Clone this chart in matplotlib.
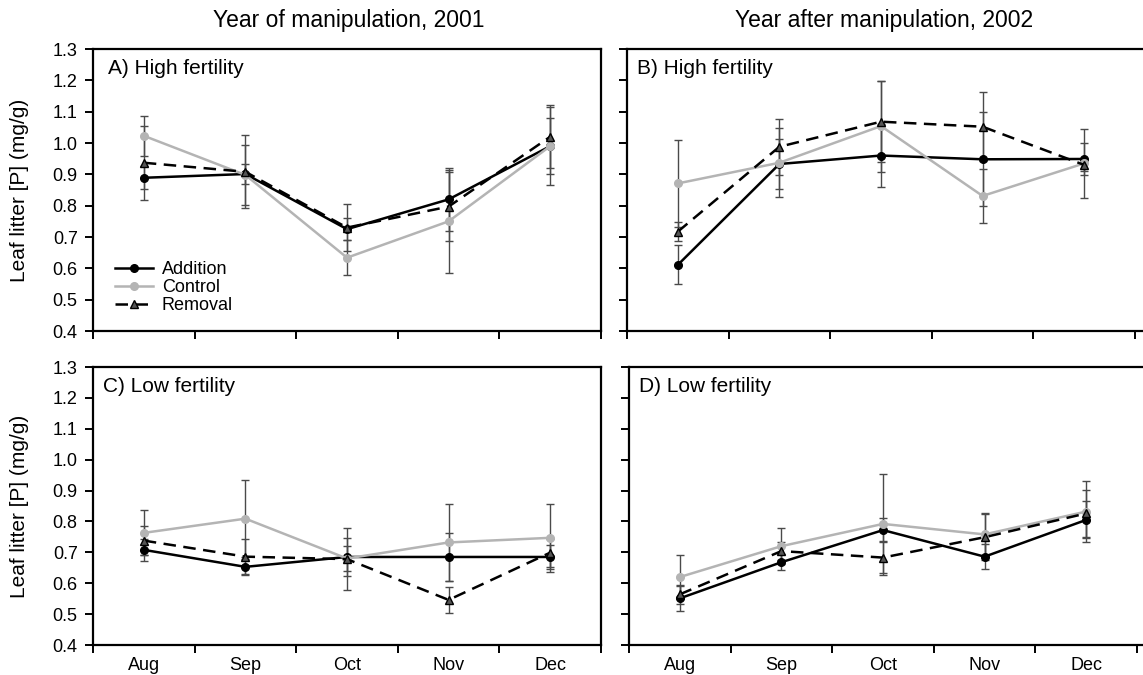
import numpy as np
import matplotlib
matplotlib.use("Agg")
import matplotlib.pyplot as plt

plt.rcParams['font.family'] = ['Liberation Sans', 'DejaVu Sans']

months = ['Aug', 'Sep', 'Oct', 'Nov', 'Dec']
treatments = ['Addition', 'Control', 'Removal']

# panel A: high fertility, 2001
a_mean = {'Addition': [0.889, 0.901, 0.725, 0.820, 0.990],
          'Control':  [1.023, 0.898, 0.634, 0.750, 0.990],
          'Removal':  [0.937, 0.908, 0.730, 0.797, 1.020]}
a_err = {'Addition': [0.037, 0.032, 0.035, 0.100, 0.090],
         'Control':  [0.064, 0.097, 0.056, 0.165, 0.125],
         'Removal':  [0.118, 0.116, 0.074, 0.110, 0.100]}

# panel B: high fertility, 2002
b_mean = {'Addition': [0.611, 0.933, 0.960, 0.948, 0.949],
          'Control':  [0.871, 0.937, 1.054, 0.831, 0.935],
          'Removal':  [0.717, 0.988, 1.068, 1.052, 0.930]}
b_err = {'Addition': [0.062, 0.080, 0.100, 0.150, 0.050],
         'Control':  [0.140, 0.110, 0.145, 0.085, 0.110],
         'Removal':  [0.030, 0.090, 0.130, 0.110, 0.020]}

# panel C: low fertility, 2001
c_mean = {'Addition': [0.708, 0.653, 0.685, 0.685, 0.685],
          'Control':  [0.763, 0.809, 0.680, 0.732, 0.747],
          'Removal':  [0.738, 0.686, 0.678, 0.546, 0.699]}
c_err = {'Addition': [0.035, 0.025, 0.060, 0.077, 0.040],
         'Control':  [0.073, 0.124, 0.040, 0.124, 0.110],
         'Removal':  [0.048, 0.057, 0.100, 0.041, 0.045]}

# panel D: low fertility, 2002
d_mean = {'Addition': [0.551, 0.668, 0.772, 0.686, 0.805],
          'Control':  [0.620, 0.720, 0.792, 0.758, 0.832],
          'Removal':  [0.564, 0.704, 0.683, 0.749, 0.826]}
d_err = {'Addition': [0.040, 0.025, 0.040, 0.040, 0.060],
         'Control':  [0.070, 0.058, 0.160, 0.070, 0.100],
         'Removal':  [0.030, 0.030, 0.055, 0.075, 0.075]}

styles = {
    'Addition': dict(color='black', ls='-', marker='o', mfc='black', mec='black', ms=5.5, lw=1.8),
    'Control':  dict(color='#b4b4b4', ls='-', marker='o', mfc='#b4b4b4', mec='#b4b4b4', ms=5.5, lw=1.8),
    'Removal':  dict(color='black', ls=(0, (5, 3)), marker='^', mfc='#555555', mec='black', ms=6, lw=1.8),
}

W, H = 1143, 675
fig = plt.figure(figsize=(W / 100, H / 100), dpi=100)


def px_axes(x0, y0, x1, y1):
    return fig.add_axes([x0 / W, 1 - y1 / H, (x1 - x0) / W, (y1 - y0) / H])


ax_a = px_axes(93, 49, 601, 331)
ax_b = px_axes(627, 49, 1143, 331)
ax_c = px_axes(93, 367, 601, 645)
ax_d = px_axes(629, 367, 1143, 645)

panels = [
    (ax_a, a_mean, a_err, 'A) High fertility', 5.5),
    (ax_b, b_mean, b_err, 'B) High fertility', 0.5 + 516 / 101.6),
    (ax_c, c_mean, c_err, 'C) Low fertility', 5.5),
    (ax_d, d_mean, d_err, 'D) Low fertility', 0.5 + 514 / 101.6),
]

x = np.arange(1, len(months) + 1)
for i, (ax, means, errs, label, xmax) in enumerate(panels):
    for t in treatments:
        ax.errorbar(x, means[t], yerr=errs[t], fmt='none', ecolor='#4a4a4a',
                    elinewidth=1.0, capsize=3.2, capthick=1.0, zorder=2)
    for t in treatments:
        ax.plot(x, means[t], label=t, zorder=3, **styles[t])
    ax.set_xlim(0.5, xmax)
    ax.set_ylim(0.4, 1.3)
    ax.set_yticks(np.arange(0.4, 1.31, 0.1))
    ax.set_xticks(np.arange(0.5, 5.6, 1.0))
    ax.set_xticklabels([])
    ax.set_xticks(x, minor=True)
    ax.tick_params(axis='x', which='minor', length=0, pad=9, labelsize=13)
    ax.tick_params(axis='both', which='major', direction='out', length=6,
                   width=1.4, labelsize=13, pad=5)
    if i >= 2:
        ax.set_xticklabels(months, minor=True)
    else:
        ax.set_xticklabels([], minor=True)
    if i % 2 == 1:
        ax.set_yticklabels([])
        ax.spines['right'].set_visible(False)
    else:
        ax.set_yticklabels(['%.1f' % v for v in np.arange(0.4, 1.31, 0.1)])
    for s in ax.spines.values():
        s.set_linewidth(1.6)
    lx = 0.03 if i == 0 else 0.02
    ax.text(lx, 0.93, label, transform=ax.transAxes, fontsize=15,
            ha='left', va='center')

ax_a.legend(loc='lower left', bbox_to_anchor=(0.043, 0.06), frameon=False,
            fontsize=13, handlelength=2.1, handletextpad=0.5,
            labelspacing=0.05, borderpad=0, borderaxespad=0)

fig.text(349 / W, 1 - 20 / H, 'Year of manipulation, 2001', ha='center',
         va='center', fontsize=16.5)
fig.text(884 / W, 1 - 20 / H, 'Year after manipulation, 2002', ha='center',
         va='center', fontsize=16.5)
fig.text(20 / W, 1 - 190 / H, 'Leaf litter [P] (mg/g)', rotation=90,
         ha='center', va='center', fontsize=15)
fig.text(20 / W, 1 - 506 / H, 'Leaf litter [P] (mg/g)', rotation=90,
         ha='center', va='center', fontsize=15)

fig.savefig('out.png', dpi=100)
